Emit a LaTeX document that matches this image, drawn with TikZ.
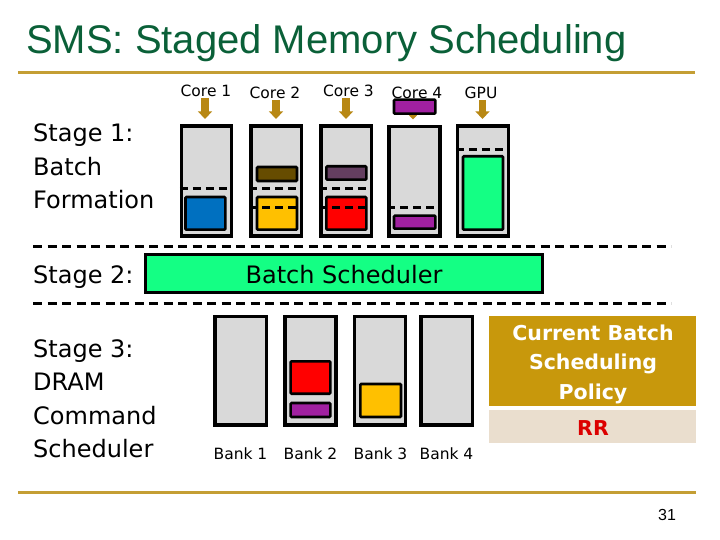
\documentclass[tikz,border=0pt]{standalone}
\usepackage{fontspec}
\setmainfont{DejaVu Sans}
\newfontfamily\arialf{Liberation Sans}
\usetikzlibrary{arrows.meta,fit}
\definecolor{titlegreen}{RGB}{10,96,56}
\definecolor{goldline}{RGB}{196,158,52}
\definecolor{arrowgold}{RGB}{184,136,20}
\definecolor{qgray}{RGB}{217,217,217}
\definecolor{cblue}{RGB}{0,112,192}
\definecolor{cyellow}{RGB}{255,192,0}
\definecolor{cred}{RGB}{255,0,0}
\definecolor{cbrown}{RGB}{102,76,0}
\definecolor{cplum}{RGB}{100,62,96}
\definecolor{cpurple}{RGB}{160,32,160}
\definecolor{cgreen}{RGB}{20,255,132}
\definecolor{policygold}{RGB}{200,152,12}
\definecolor{policybeige}{RGB}{234,222,206}
\definecolor{rrred}{RGB}{220,0,0}
\tikzset{
  queue/.style={draw=black, line width=3.2pt, fill=qgray, inner sep=0pt},
  block/.style={draw=black, line width=2.6pt, rounded corners=1pt, inner sep=0pt},
  qdash/.style={line width=3pt, dash pattern=on 8pt off 5pt},
  sepline/.style={line width=2.8pt, dash pattern=on 9pt off 5.5pt},
  goldrule/.style={draw=goldline, line width=3pt},
  corelbl/.style={font=\fontsize{15.5}{18}\selectfont, inner sep=0pt, anchor=base},
  stagelbl/.style={font=\fontsize{24}{33.5}\selectfont, inner sep=0pt, anchor=base west, align=left},
  corearrow/.style={draw=arrowgold, line width=7.5pt, -{Triangle[width=14pt,length=7.5pt]}, shorten >=5.5pt, shorten <=0.5pt},
  policytxt/.style={font=\fontsize{20.5}{29.5}\selectfont\bfseries, inner sep=0pt, align=center, text=white},
}
\begin{document}
\begin{tikzpicture}[x=1pt,y=-1pt]
\useasboundingbox (0,0) rectangle (720,540);
% title
\node[anchor=base west, inner sep=0pt, text=titlegreen, font=\arialf\fontsize{40}{44}\selectfont] (title) at (26,53.5) {SMS: Staged Memory Scheduling};
\draw[goldrule] (18,72.3) -- (695,72.3);
\draw[goldrule] (18,492.3) -- (696,492.3);
\node[anchor=base, inner sep=0pt, font=\arialf\fontsize{16}{18}\selectfont] (pagenum) at (667,520) {31};

% core labels
\node[corelbl] (c1) at (206,97) {Core 1};
\node[corelbl] (c2) at (275,99) {Core 2};
\node[corelbl] (c3) at (348.5,97) {Core 3};
\node[corelbl] (c4) at (417,99) {Core 4};
\node[corelbl] (c5) at (481,99) {GPU};

% queues
\node[queue, fit={(181.5,126) (231.5,236)}] (q1) {};
\node[queue, fit={(251,126) (301.5,236)}] (q2) {};
\node[queue, fit={(321,126) (371.5,236)}] (q3) {};
\node[queue, fit={(389,126.5) (440,236)}] (q4) {};
\node[queue, fit={(457.5,126) (508.5,236)}] (q5) {};

% arrows
\foreach \c/\q/\x in {c1/q1/205, c2/q2/276, c3/q3/346, c4/q4/413, c5/q5/482.5}{
  \draw[corearrow] (\c.south -| \x,0) -- (\q.north -| \x,0);
}

% blocks
\node[block, fill=cblue, fit={(185.5,197) (225.3,229.7)}] (b1) {};
\node[block, fill=cbrown, fit={(257,167) (297,181)}] (b2a) {};
\node[block, fill=cyellow, fit={(257,197) (297,229.7)}] (b2b) {};
\node[block, fill=cplum, fit={(326.3,166.3) (366.4,179.7)}] (b3a) {};
\node[block, fill=cred, fit={(326.3,197) (366.4,229.7)}] (b3b) {};
\node[block, fill=cpurple, fit={(394,215.6) (435.4,228.7)}] (b4a) {};
\node[block, fill=cpurple, fit={(394,99.6) (435.4,113.7)}] (b4b) {};
\node[block, fill=cgreen, fit={(463,156.3) (503,229.7)}] (b5) {};

% dashed lines inside queues
\draw[qdash] (q1.west |- 0,188.3) -- (q1.east |- 0,188.3);
\draw[qdash] (q2.west |- 0,188.3) -- (q2.east |- 0,188.3);
\draw[qdash] (q2.west |- 0,207.3) -- (q2.east |- 0,207.3);
\draw[qdash] (q3.west |- 0,188.3) -- (q3.east |- 0,188.3);
\draw[qdash] (q3.west |- 0,207.3) -- (q3.east |- 0,207.3);
\draw[qdash] (q4.west |- 0,207.3) -- (q4.east |- 0,207.3);
\draw[qdash] (q5.west |- 0,150) -- (q5.east |- 0,150);

% stage labels (base = baseline of last line)
\node[stagelbl] (s1) at (33,209) {Stage 1:\\Batch\\Formation};
\node[stagelbl] (s2) at (33,283.3) {Stage 2:};
\node[stagelbl] (s3) at (33,457.5) {Stage 3:\\DRAM\\Command\\Scheduler};

% separators
\draw[sepline] (33,246.3) -- (671,246.3);
\draw[sepline] (33,303.3) -- (671,303.3);

% batch scheduler
\node[draw=black, line width=3.2pt, fill=cgreen, inner sep=0pt, fit={(145.6,254.3) (542.4,292.4)}] (bs) {};
\node[anchor=base, inner sep=0pt, font=\fontsize{24}{28}\selectfont] (bstxt) at (344,283) {Batch Scheduler};

% banks
\node[queue, fit={(215,316.6) (266.7,425)}] (k1) {};
\node[queue, fit={(285,316.6) (336,425)}] (k2) {};
\node[queue, fit={(354.3,316.6) (405.7,425)}] (k3) {};
\node[queue, fit={(421,316.6) (472.4,425)}] (k4) {};
\node[block, fill=cred, fit={(290.6,361.3) (330.4,393.7)}] (kb2a) {};
\node[block, fill=cpurple, fit={(290.6,403) (330.4,417)}] (kb2b) {};
\node[block, fill=cyellow, fit={(360.3,384) (401,417)}] (kb3) {};
\node[corelbl] (l1) at (240.5,459) {Bank 1};
\node[corelbl] (l2) at (310.5,459) {Bank 2};
\node[corelbl] (l3) at (380.5,459) {Bank 3};
\node[corelbl] (l4) at (446.5,459) {Bank 4};

% policy
\fill[policygold] (488.5,315.5) rectangle (696,405.5);
\fill[policybeige] (488.5,410) rectangle (696,442.5);
\node[policytxt, anchor=base] (pol) at (593,399) {Current Batch\\Scheduling\\Policy};
\node[anchor=base, inner sep=0pt, font=\fontsize{20.5}{24}\selectfont\bfseries, text=rrred] (rr) at (593,435) {RR};
\end{tikzpicture}
\end{document}
